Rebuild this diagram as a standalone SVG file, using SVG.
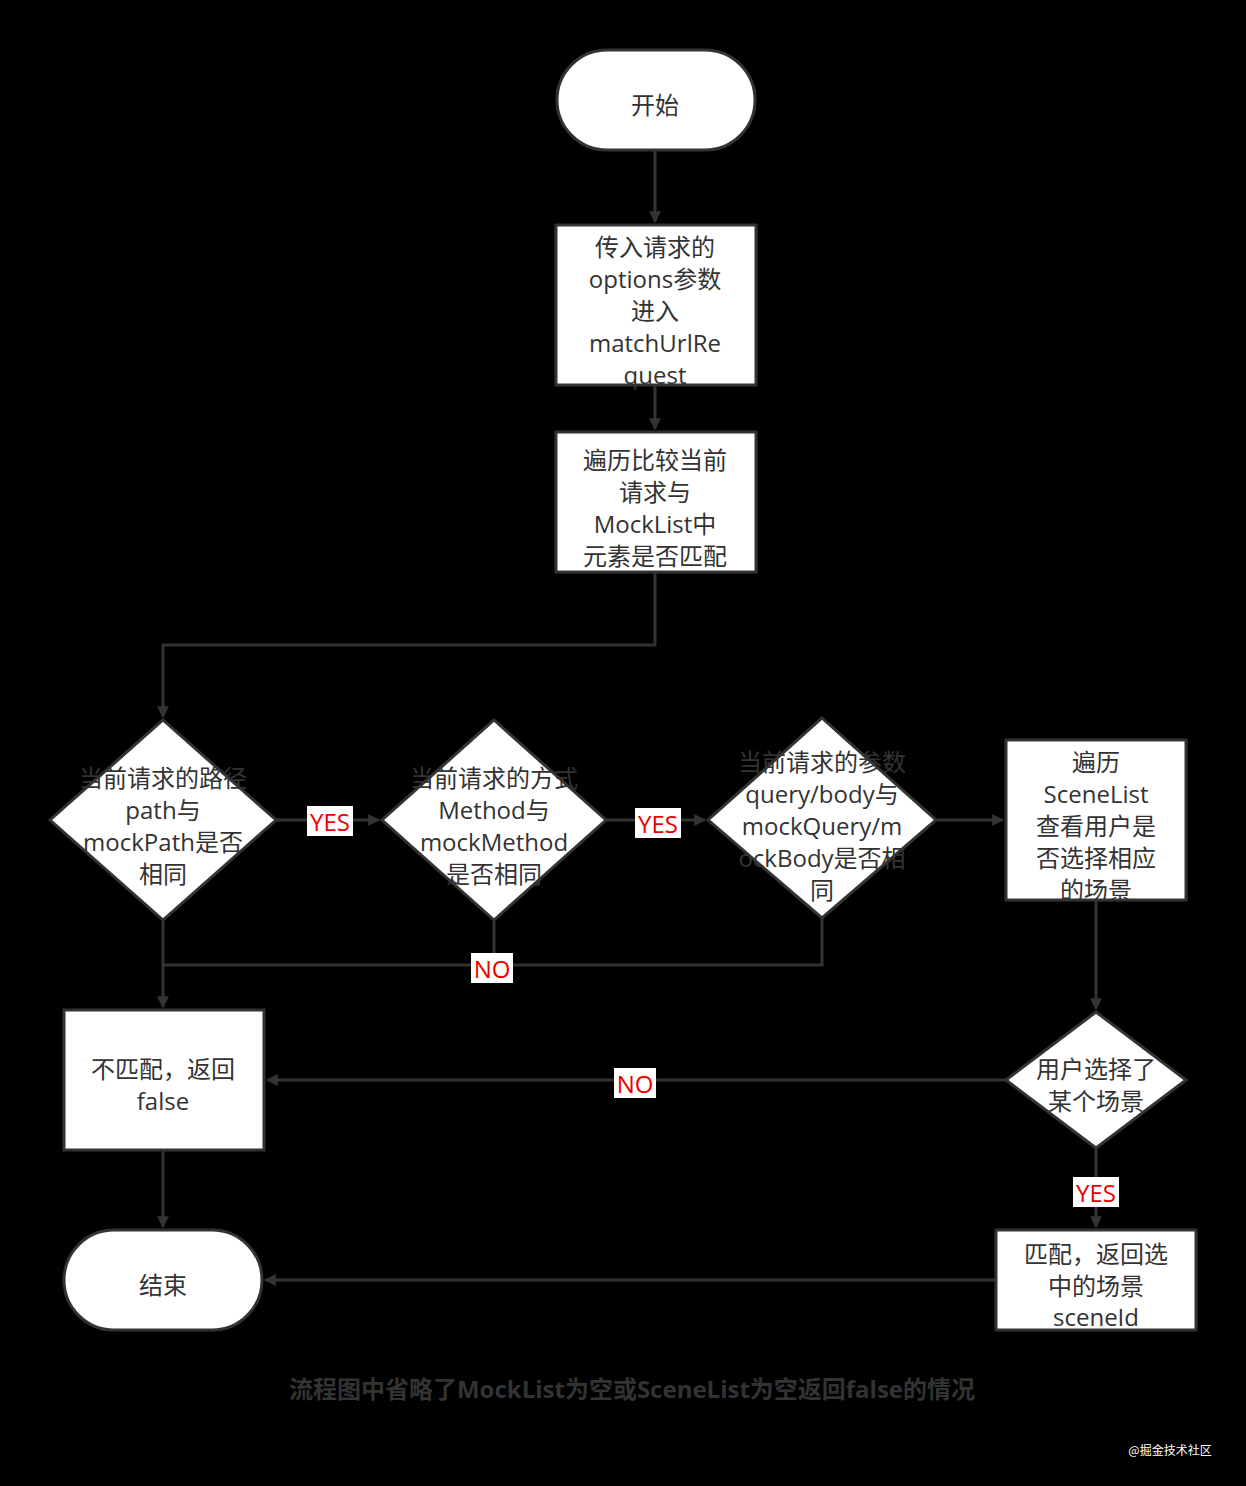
<svg xmlns="http://www.w3.org/2000/svg" width="1246" height="1486" viewBox="0 0 1246 1486">
<defs>
<style>
.s{fill:#fff;stroke:#333;stroke-width:3}
.t{font-family:"Open Sans","Noto Sans CJK SC",sans-serif;font-size:24px;fill:#333;text-anchor:middle;dominant-baseline:central}
.c{fill:none;stroke:#333;stroke-width:3}
.lb{fill:#fff}
.lt{font-family:"Open Sans","Noto Sans CJK SC",sans-serif;font-size:24px;fill:#e00;text-anchor:middle;dominant-baseline:central}
</style>
<marker id="a" viewBox="0 0 10 10" refX="9" refY="5" markerWidth="12" markerHeight="12" markerUnits="userSpaceOnUse" orient="auto"><path d="M0,0L10,5L0,10z" fill="#333"/></marker>
</defs>
<rect width="1246" height="1486" fill="#000"/>
<g id="connectors">
<path class="c" d="M655,150V222" marker-end="url(#a)"/>
<path class="c" d="M655,385V429" marker-end="url(#a)"/>
<path class="c" d="M655,572V645H163V717" marker-end="url(#a)"/>
<path class="c" d="M276,820H379" marker-end="url(#a)"/>
<path class="c" d="M606,820H705" marker-end="url(#a)"/>
<path class="c" d="M936,820H1003" marker-end="url(#a)"/>
<path class="c" d="M822,918V965H163"/>
<path class="c" d="M494,920V965"/>
<path class="c" d="M163,920V1007" marker-end="url(#a)"/>
<path class="c" d="M1096,900V1009" marker-end="url(#a)"/>
<path class="c" d="M1006,1080H267" marker-end="url(#a)"/>
<path class="c" d="M1096,1148V1227" marker-end="url(#a)"/>
<path class="c" d="M996,1280H265" marker-end="url(#a)"/>
<path class="c" d="M163,1150V1227" marker-end="url(#a)"/>
<rect class="lb" x="307" y="806" width="46" height="30"/><text class="lt" x="330" y="821">YES</text>
<rect class="lb" x="635" y="808" width="46" height="30"/><text class="lt" x="658" y="823">YES</text>
<rect class="lb" x="471" y="953" width="42" height="30"/><text class="lt" x="492" y="968">NO</text>
<rect class="lb" x="614" y="1068" width="42" height="30"/><text class="lt" x="635" y="1083">NO</text>
<rect class="lb" x="1073" y="1177" width="46" height="30"/><text class="lt" x="1096" y="1192">YES</text>
</g>
<g id="start"><rect class="s" x="557" y="50" width="198" height="100" rx="50"/><text class="t" x="655" y="104">开始</text></g>
<g id="box1"><rect class="s" x="556" y="225" width="200" height="160"/><text class="t" x="655"><tspan x="655" y="246">传入请求的</tspan><tspan x="655" y="278">options参数</tspan><tspan x="655" y="310">进入</tspan><tspan x="655" y="342">matchUrlRe</tspan><tspan x="655" y="374">quest</tspan></text></g>
<g id="box2"><rect class="s" x="556" y="432" width="200" height="140"/><text class="t"><tspan x="655" y="459">遍历比较当前</tspan><tspan x="655" y="491">请求与</tspan><tspan x="655" y="523">MockList中</tspan><tspan x="655" y="555">元素是否匹配</tspan></text></g>
<g id="d1"><path class="s" d="M163,720L276,820L163,920L50,820z"/><text class="t"><tspan x="163" y="777">当前请求的路径</tspan><tspan x="163" y="809">path与</tspan><tspan x="163" y="841">mockPath是否</tspan><tspan x="163" y="873">相同</tspan></text></g>
<g id="d2"><path class="s" d="M494,720L606,820L494,920L382,820z"/><text class="t"><tspan x="494" y="777">当前请求的方式</tspan><tspan x="494" y="809">Method与</tspan><tspan x="494" y="841">mockMethod</tspan><tspan x="494" y="873">是否相同</tspan></text></g>
<g id="d3"><path class="s" d="M822,718L936,820L822,918L708,820z"/><text class="t"><tspan x="822" y="761">当前请求的参数</tspan><tspan x="822" y="793">query/body与</tspan><tspan x="822" y="825">mockQuery/m</tspan><tspan x="822" y="857">ockBody是否相</tspan><tspan x="822" y="889">同</tspan></text></g>
<g id="box3"><rect class="s" x="1006" y="740" width="180" height="160"/><text class="t"><tspan x="1096" y="761">遍历</tspan><tspan x="1096" y="793">SceneList</tspan><tspan x="1096" y="825">查看用户是</tspan><tspan x="1096" y="857">否选择相应</tspan><tspan x="1096" y="889">的场景</tspan></text></g>
<g id="box4"><rect class="s" x="64" y="1010" width="200" height="140"/><text class="t"><tspan x="163" y="1068">不匹配，返回</tspan><tspan x="163" y="1100">false</tspan></text></g>
<g id="d4"><path class="s" d="M1096,1012L1186,1080L1096,1148L1006,1080z"/><text class="t"><tspan x="1096" y="1068">用户选择了</tspan><tspan x="1096" y="1100">某个场景</tspan></text></g>
<g id="box5"><rect class="s" x="996" y="1230" width="200" height="100"/><text class="t"><tspan x="1096" y="1253">匹配，返回选</tspan><tspan x="1096" y="1285">中的场景</tspan><tspan x="1096" y="1316">sceneId</tspan></text></g>
<g id="end"><rect class="s" x="64" y="1230" width="198" height="100" rx="50"/><text class="t" x="163" y="1284">结束</text></g>
<text class="t" x="632" y="1388" style="font-weight:bold">流程图中省略了MockList为空或SceneList为空返回false的情况</text>
<text x="1170" y="1449" style="font-family:'Noto Sans CJK SC',sans-serif;font-size:12px;fill:#fff;text-anchor:middle;dominant-baseline:central">@掘金技术社区</text>
</svg>
